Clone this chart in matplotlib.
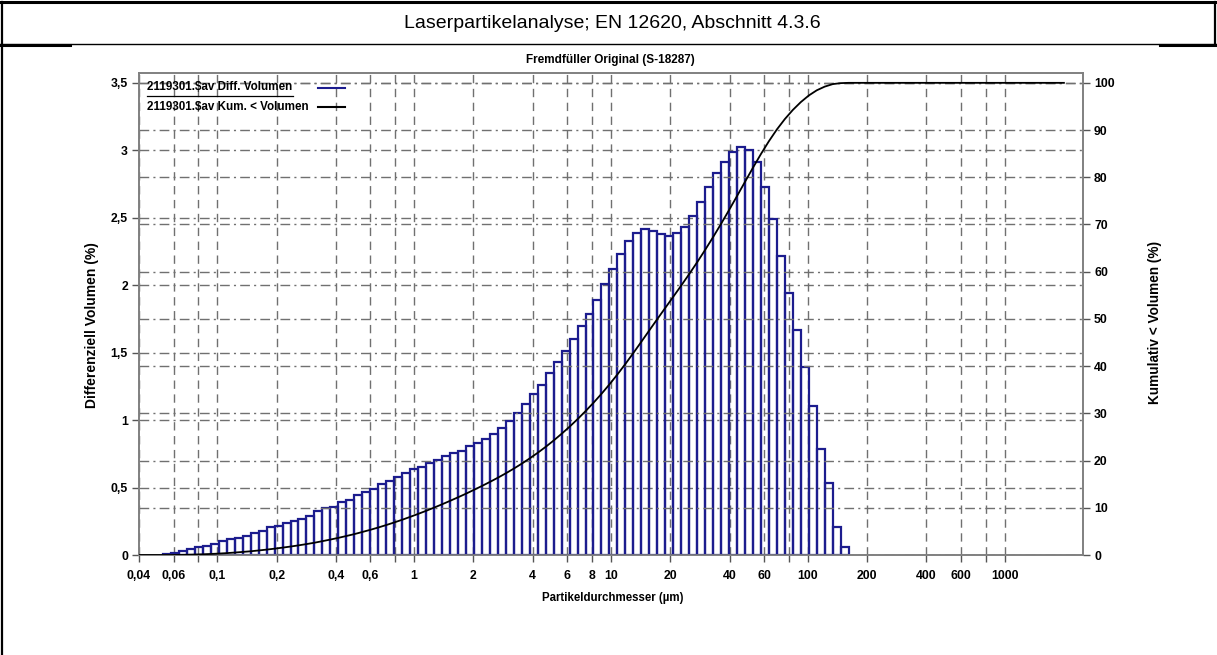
import matplotlib
matplotlib.use("Agg")
import matplotlib.pyplot as plt
from matplotlib.lines import Line2D
from matplotlib.ticker import FixedLocator, FixedFormatter, NullLocator

FONT = ["Liberation Sans", "DejaVu Sans"]
plt.rcParams["font.family"] = FONT

# ---------------- data ----------------
# channel edges (µm), lower edge of each bar plus the final upper edge
channel_edges = [
    0.05291, 0.05809, 0.06377, 0.07000, 0.07685, 0.08436, 0.09261, 0.1017, 0.1116, 0.1225,
    0.1345, 0.1476, 0.1621, 0.1779, 0.1953, 0.2144, 0.2354, 0.2584, 0.2836, 0.3113,
    0.3418, 0.3752, 0.4119, 0.4521, 0.4963, 0.5449, 0.5981, 0.6566, 0.7208, 0.7913,
    0.8686, 0.9536, 1.0468, 1.1491, 1.2614, 1.3848, 1.5201, 1.6688, 1.8319, 2.0110,
    2.2076, 2.4234, 2.6603, 2.9204, 3.2059, 3.5193, 3.8633, 4.2410, 4.6556, 5.1107,
    5.6103, 6.1588, 6.7609, 7.4218, 8.1473, 8.9438, 9.8181, 10.778, 11.832, 12.988,
    14.258, 15.652, 17.182, 18.862, 20.706, 22.730, 24.952, 27.391, 30.069, 33.009,
    36.236, 39.779, 43.667, 47.936, 52.623, 57.768, 63.415, 69.615, 76.421, 83.892,
    92.094, 101.10, 110.98, 121.83, 133.74, 146.82, 161.17,
]
# differential volume (%) per channel
diff_volume = [
    0.005, 0.017, 0.030, 0.044, 0.057, 0.067, 0.079, 0.106, 0.118, 0.128,
    0.143, 0.166, 0.180, 0.205, 0.217, 0.235, 0.254, 0.269, 0.289, 0.328,
    0.346, 0.358, 0.390, 0.408, 0.445, 0.465, 0.490, 0.524, 0.548, 0.580,
    0.605, 0.635, 0.655, 0.680, 0.704, 0.731, 0.754, 0.773, 0.808, 0.828,
    0.862, 0.897, 0.944, 0.993, 1.050, 1.120, 1.190, 1.260, 1.350, 1.430,
    1.510, 1.600, 1.700, 1.790, 1.890, 2.007, 2.118, 2.231, 2.328, 2.390,
    2.414, 2.404, 2.377, 2.365, 2.385, 2.434, 2.515, 2.619, 2.726, 2.830,
    2.913, 2.985, 3.024, 3.002, 2.911, 2.730, 2.490, 2.216, 1.940, 1.668,
    1.396, 1.105, 0.788, 0.531, 0.205, 0.062,
]
# cumulative < volume (%) curve
cum_sizes = [0.04] + channel_edges + [2000.0]
cum_volume = [
    0.0, 0.0,
    0.0, 0.02, 0.05, 0.10, 0.15, 0.22, 0.30, 0.40, 0.52, 0.65,
    0.79, 0.96, 1.14, 1.34, 1.56, 1.79, 2.04, 2.31, 2.60, 2.93,
    3.27, 3.63, 4.02, 4.42, 4.87, 5.33, 5.82, 6.34, 6.89, 7.46,
    8.07, 8.70, 9.35, 10.03, 10.73, 11.46, 12.21, 12.98, 13.79, 14.61,
    15.47, 16.36, 17.30, 18.29, 19.34, 20.46, 21.64, 22.90, 24.24, 25.67,
    27.17, 28.77, 30.46, 32.24, 34.13, 36.13, 38.24, 40.46, 42.78, 45.16,
    47.57, 49.96, 52.33, 54.68, 57.06, 59.49, 62.00, 64.61, 67.32, 70.14,
    73.05, 76.02, 79.03, 82.02, 84.92, 87.64, 90.13, 92.33, 94.26, 95.92,
    97.32, 98.42, 99.20, 99.73, 99.94, 100.0,
    100.0,
]
assert len(channel_edges) == len(diff_volume) + 1
assert len(cum_sizes) == len(cum_volume)

x_grid = [0.04, 0.06, 0.08, 0.1, 0.2, 0.4, 0.6, 0.8, 1, 2, 4, 6, 8, 10, 20, 40, 60, 80,
          100, 200, 400, 600, 800, 1000]
x_labels = ["0,04", "0,06", "", "0,1", "0,2", "0,4", "0,6", "", "1", "2", "4", "6", "8", "10",
            "20", "40", "60", "", "100", "200", "400", "600", "", "1000"]
y_left_ticks = [0, 0.5, 1, 1.5, 2, 2.5, 3, 3.5]
y_left_labels = ["0", "0,5", "1", "1,5", "2", "2,5", "3", "3,5"]
y_right_ticks = [0, 10, 20, 30, 40, 50, 60, 70, 80, 90, 100]

title = "Laserpartikelanalyse; EN 12620, Abschnitt 4.3.6"
subtitle = "Fremdfüller Original (S-18287)"
legend_diff = "2119301.$av Diff. Volumen"
legend_cum = "2119301.$av Kum. < Volumen"

# ---------------- figure ----------------
W, H = 1217, 655
fig = plt.figure(figsize=(W / 100, H / 100), dpi=100)


def fx(x):
    return x / W


def fy(y):
    return 1 - y / H


L, R, T, B = 139, 1083, 73, 555
ax = fig.add_axes([fx(L), fy(B), fx(R) - fx(L), fy(T) - fy(B)])
ax2 = ax.twinx()

navy = "#1c1c8e"
grid_c = "#707070"

widths = [channel_edges[i + 1] - channel_edges[i] for i in range(len(diff_volume))]
ax.bar(channel_edges[:-1], diff_volume, width=widths, align="edge",
       facecolor="none", edgecolor=navy, linewidth=1.6, zorder=3)

ax.set_xscale("log")
ax.set_xlim(0.04, 2500)
ax.set_ylim(0, 3.573)
ax2.set_ylim(0, 3.573 / 3.5 * 100)

ax.xaxis.set_major_locator(FixedLocator(x_grid))
ax.xaxis.set_major_formatter(FixedFormatter(x_labels))
ax.xaxis.set_minor_locator(NullLocator())
ax.set_yticks(y_left_ticks)
ax.set_yticklabels(y_left_labels)
ax2.set_yticks(y_right_ticks)
ax2.set_yticklabels([str(v) for v in y_right_ticks])

dashdot = (0, (7, 3, 1.5, 3))
ax.xaxis.grid(True, color=grid_c, linestyle=(0, (6, 4)), linewidth=1.0, zorder=0)
ax.yaxis.grid(True, color=grid_c, linestyle=dashdot, linewidth=1.0, zorder=0)
ax2.yaxis.grid(True, color=grid_c, linestyle=dashdot, linewidth=1.0, zorder=0)
ax.set_axisbelow(True)
ax2.set_axisbelow(True)

ax2.plot(cum_sizes, cum_volume, color="black", linewidth=1.3, zorder=4)

for a in (ax, ax2):
    for s in a.spines.values():
        s.set_color("#808080")
        s.set_linewidth(1.2)
    a.tick_params(colors="#555555", labelcolor="black", length=5, width=1)
for lab in ax.get_xticklabels() + ax.get_yticklabels() + ax2.get_yticklabels():
    lab.set_fontfamily(FONT)
    lab.set_fontweight("bold")
    lab.set_fontsize(8.8)
ax.tick_params(axis="x", pad=6)
ax.tick_params(axis="y", pad=3)
ax2.tick_params(axis="y", pad=3)

# axis labels
fig.text(fx(613), fy(598), "Partikeldurchmesser (µm)", ha="center", va="center",
         fontsize=8.3, fontweight="bold", family=FONT)
fig.text(fx(92), fy(325), "Differenziell Volumen (%)", ha="center", va="center",
         rotation=90, fontsize=10, fontweight="bold", family=FONT)
fig.text(fx(1155), fy(323), "Kumulativ < Volumen (%)", ha="center", va="center",
         rotation=90, fontsize=9.8, fontweight="bold", family=FONT)
fig.text(fx(610), fy(60), subtitle, ha="center", va="center",
         fontsize=8.5, fontweight="bold", family=FONT)

# legend (drawn manually)
fig.text(fx(147), fy(87), legend_diff, ha="left", va="center",
         fontsize=8.4, fontweight="bold", family=FONT)
fig.text(fx(147), fy(107), legend_cum, ha="left", va="center",
         fontsize=8.4, fontweight="bold", family=FONT)
fig.add_artist(Line2D([fx(147), fx(293)], [fy(96), fy(96)], color="black", linewidth=0.9))
fig.add_artist(Line2D([fx(318), fx(345)], [fy(88), fy(88)], color=navy, linewidth=1.5))
fig.add_artist(Line2D([fx(318), fx(345)], [fy(107), fy(107)], color="black", linewidth=1.5))

# page frame / title cell
fig.text(fx(612), fy(23), title, ha="center", va="center", fontsize=14, family=FONT)
fig.add_artist(Line2D([0, 1], [fy(2), fy(2)], color="black", linewidth=2.2))
fig.add_artist(Line2D([fx(1.5), fx(1.5)], [fy(2), 0], color="black", linewidth=1.6))
fig.add_artist(Line2D([fx(1215), fx(1215)], [fy(2), fy(44)], color="black", linewidth=1.6))
fig.add_artist(Line2D([0, 1], [fy(44), fy(44)], color="black", linewidth=1.0))
fig.add_artist(Line2D([0, fx(70)], [fy(44.5), fy(44.5)], color="black", linewidth=2.2))
fig.add_artist(Line2D([fx(1160), 1], [fy(44.5), fy(44.5)], color="black", linewidth=2.2))

fig.savefig("out.png", dpi=100)
